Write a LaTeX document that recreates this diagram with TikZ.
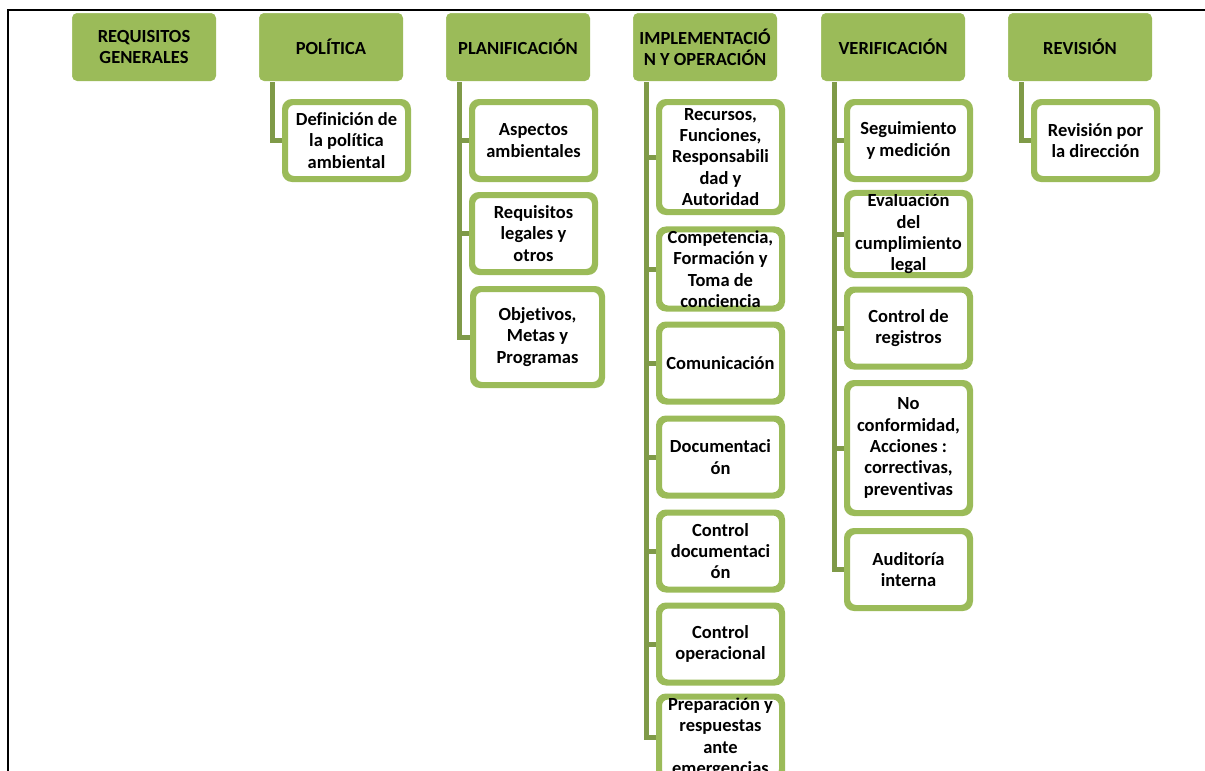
\documentclass[tikz,border=0pt]{standalone}
\usepackage{fontspec}
\setmainfont[Ligatures=NoCommon]{Carlito}
\usetikzlibrary{calc}
\definecolor{olivefill}{HTML}{9BBB59}
\definecolor{olivedark}{HTML}{7F9A48}
\tikzset{
  txt/.style={font=\bfseries\fontsize{18.5}{21.3}\selectfont, align=center, text=black, inner sep=0pt},
  head/.style={txt, fill=olivefill, draw=olivefill, line width=0.5pt, rounded corners=5pt,
    minimum width=143.5pt, minimum height=67.5pt},
  item/.style={txt, fill=white, draw=olivefill, line width=4pt, rounded corners=8pt,
    minimum width=121pt, minimum height=75pt},
  conn/.style={draw=olivedark, line width=5pt},
}
\begin{document}
\begin{tikzpicture}[x=1pt,y=-1pt]
\useasboundingbox (0,0) rectangle (1205,771);
% frame lines
\draw[line width=2pt] (8,772) -- (8,9.5) -- (1206,9.5);

% column headers
\node[head] (h1) at (144,47) {REQUISITOS\\GENERALES};
\node[head] (h2) at (331,47) {POLÍTICA};
\node[head] (h3) at (518,47) {PLANIFICACIÓN};
\node[head] (h4) at (705,47) {IMPLEMENTACIÓ\\N Y OPERACIÓN};
\node[head] (h5) at (893,47) {VERIFICACIÓN};
\node[head] (h6) at (1080,47) {REVISIÓN};

% política
\node[item] (p1) at (346.5,140.5) {Definición de\\la política\\ambiental};

% planificación
\node[item] (q1) at (533.5,140.5) {Aspectos\\ambientales};
\node[item] (q2) at (533.5,233.5) {Requisitos\\legales y\\otros};
\node[item, minimum width=127pt, minimum height=94pt] (q3) at (537.5,337) {Objetivos,\\Metas y\\Programas};

% implementación y operación
\node[item, minimum height=108pt] (r1) at (720.5,157) {Recursos,\\Funciones,\\Responsabili\\dad y\\Autoridad};
\node[item] (r2) at (720.5,269) {Competencia,\\Formación y\\Toma de\\conciencia};
\node[item] (r3) at (720.5,363) {Comunicación};
\node[item] (r4) at (720.5,457) {Documentaci\\ón};
\node[item] (r5) at (720.5,551) {Control\\documentaci\\ón};
\node[item] (r6) at (720.5,644) {Control\\operacional};
\node[item] (r7) at (720.5,737.5) {Preparación y\\respuestas\\ante\\emergencias};

% verificación
\node[item] (v1) at (908.5,140.5) {Seguimiento\\y medición};
\node[item] (v2) at (908.5,234) {Evaluación\\del\\cumplimiento\\legal};
\node[item] (v3) at (908.5,328) {Control de\\registros};
\node[item, minimum height=128pt] (v4) at (908.5,448) {No\\conformidad,\\Acciones :\\correctivas,\\preventivas};
\node[item] (v5) at (908.5,569.5) {Auditoría\\interna};

% revisión
\node[item] (s1) at (1095.5,140.5) {Revisión por\\la dirección};

% connectors from each header to its items
\foreach \h/\c in {h2/p1, h3/q1, h3/q2, h3/q3,
                   h4/r1, h4/r2, h4/r3, h4/r4, h4/r5, h4/r6, h4/r7,
                   h5/v1, h5/v2, h5/v3, h5/v4, h5/v5, h6/s1}
  \draw[conn] ($(\h.south west)+(13,1)$) |- (\c.west);

% redraw item outlines above the connector ends
\foreach \c in {p1,q1,q2,q3,r1,r2,r3,r4,r5,r6,r7,v1,v2,v3,v4,v5,s1}
  \draw[draw=olivefill, line width=4pt, rounded corners=8pt]
    (\c.south west) rectangle (\c.north east);
\end{tikzpicture}
\end{document}
